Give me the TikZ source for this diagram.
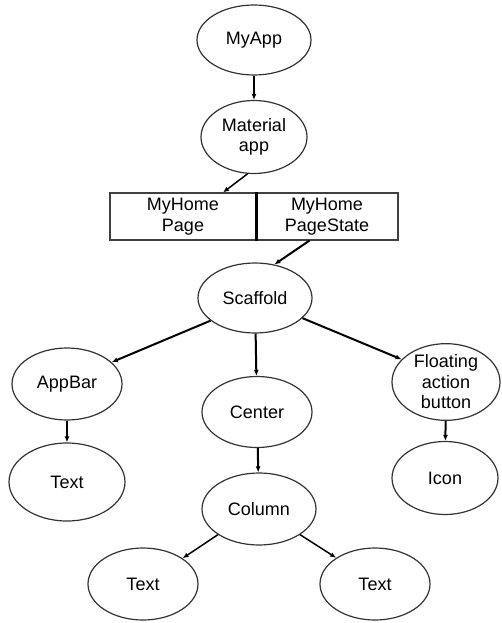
\documentclass[tikz,border=0pt]{standalone}
\usepackage{fontspec}
\setmainfont{Liberation Sans}
\usepackage{tikz}
\usetikzlibrary{shapes,arrows,arrows.meta}

\tikzset{
  widget/.style={ellipse,draw=black!80,line width=1.2pt,inner sep=0pt,align=center,
    font=\fontsize{18}{20.5}\selectfont},
  stateBox/.style={rectangle,draw=black!75,line width=1.1pt,inner sep=0pt,align=center,
    minimum height=47pt,font=\fontsize{18}{20.5}\selectfont},
  child/.style={-{Latex[length=6pt,width=5pt]},line width=2pt}
}

\begin{document}
\begin{tikzpicture}[x=1pt,y=-1pt]
\useasboundingbox (0,0) rectangle (501,623);
% top of the tree
\node[widget,minimum width=114pt,minimum height=70pt] (myapp) at (254,40) {MyApp};
\node[widget,minimum width=106pt,minimum height=73pt] (material) at (254,137) {Material\\app};
\node[stateBox,minimum width=146pt] (page) at (183,216.5) {MyHome\\Page};
\node[stateBox,minimum width=142pt] (state) at (327,216.5) {MyHome\\PageState};
\draw[line width=3.5pt] (page.north east) -- (page.south east);
% widgets below the state
\node[widget,minimum width=114pt,minimum height=70pt] (scaffold) at (255,298) {Scaffold};
\node[widget,minimum width=110pt,minimum height=72pt] (appbar) at (67,384) {AppBar};
\node[widget,minimum width=110pt,minimum height=71pt] (center) at (257,412) {Center};
\node[widget,minimum width=108pt,minimum height=71pt] (fab) at (446,382) {Floating\\action\\button};
\node[widget,minimum width=116pt,minimum height=78pt] (bartext) at (67,482) {Text};
\node[widget,minimum width=106pt,minimum height=73pt] (icon) at (445,478) {Icon};
\node[widget,minimum width=114pt,minimum height=72pt] (column) at (259,509) {Column};
\node[widget,minimum width=110pt,minimum height=72pt] (textl) at (143,584) {Text};
\node[widget,minimum width=110pt,minimum height=72pt] (textr) at (375,584) {Text};
% connectors
\draw[child] (myapp) -- (material);
\draw[child,line width=1.5pt] (material.-100) -- (page.31);
\draw[child] (state.234) -- (scaffold.60);
\draw[child] (scaffold.207) -- (appbar.26);
\draw[child] (scaffold) -- (center);
\draw[child] (scaffold.-23) -- (fab.153);
\draw[child] (appbar) -- (bartext);
\draw[child] (fab) -- (icon);
\draw[child] (center) -- (column);
\draw[child,line width=1.5pt] (column.212) -- (textl.33);
\draw[child,line width=1.5pt] (column.-32) -- (textr.146);
\end{tikzpicture}
\end{document}
